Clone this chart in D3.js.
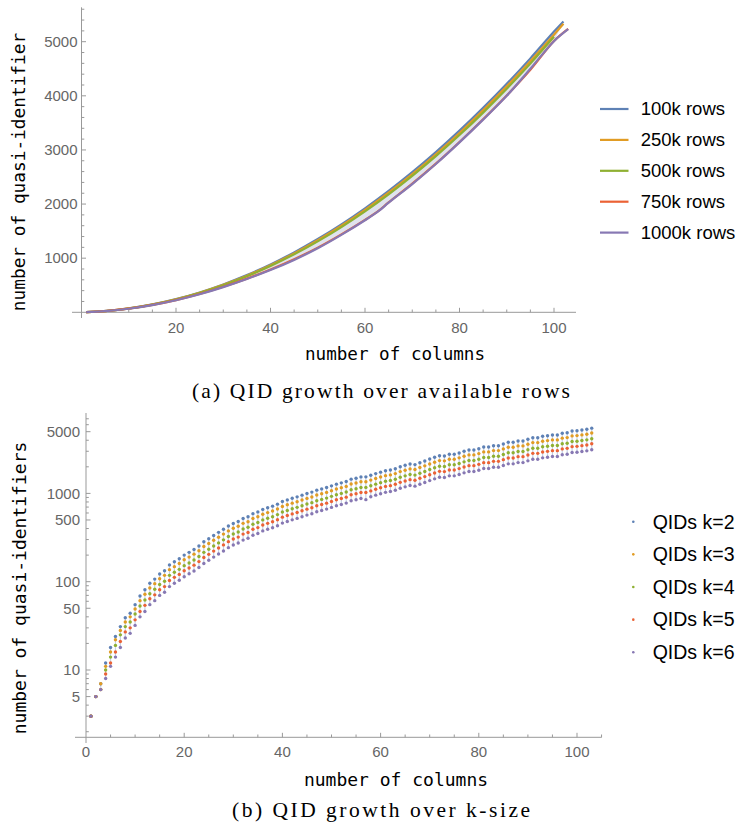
<!DOCTYPE html>
<html><head><meta charset="utf-8">
<script src="https://cdn.jsdelivr.net/npm/d3@7"></script>
<style>body{margin:0;background:#fff}svg{display:block}</style>
</head><body>
<svg id="c" width="741" height="835"></svg>
<script>
// ---------- DATA: (a) QID growth over available rows ----------
const rowLabels = ["100k rows","250k rows","500k rows","750k rows","1000k rows"];
const colsA = [1,5,10,15,20,25,30,35,40,45,50,55,60,65,70,75,80,85,90,95,100,102];
const colsGreen = [1,5,10,15,20,25,30,35,40,45,50,55,60,65,70,75,80,85,90,95,100];
const colsLong = [1,5,10,15,20,25,30,35,40,45,50,55,60,63,65,70,75,80,85,90,95,100,103];
const rows100k = [3,24,72,146,244,367,515,687,884,1107,1354,1625,1922,2243,2589,2960,3356,3777,4222,4692,5187,5375];
const rows250k = [3,23,71,143,240,361,507,676,870,1088,1332,1600,1893,2210,2553,2921,3314,3732,4175,4640,5130,5330];
const rows500k = [3,23,70,141,236,355,498,665,855,1070,1310,1575,1865,2180,2520,2885,3275,3690,4130,4595,5090];
const rows750k = [3,22,67,136,226,338,471,622,790,980,1195,1440,1708,1885,2032,2376,2746,3146,3566,4006,4480,5012,5235];
const rows1000k = [3,22,66,134,222,333,465,615,780,968,1182,1430,1700,1878,2025,2370,2740,3140,3560,4000,4500,5010,5231];

// ---------- DATA: (b) QID growth over k-size ----------
const kLabels = ["QIDs k=2","QIDs k=3","QIDs k=4","QIDs k=5","QIDs k=6"];
const kCols = d3.range(1, 104);
const qidK2 = [3,5,7,12,18,24,31,39,44,55,69,81,96,107,122,133,155,168,182,200,215,232,254,283,307,334,362,392,427,457,481,520,543,590,617,659,688,717,756,809,844,881,914,955,997,1034,1088,1125,1165,1218,1272,1316,1364,1450,1487,1537,1540,1606,1675,1741,1804,1841,1905,2006,2080,2153,2120,2228,2330,2450,2564,2673,2654,2773,2773,2870,2998,3100,3100,3208,3355,3355,3470,3470,3625,3793,3793,3920,3920,4100,4275,4275,4434,4500,4585,4585,4800,4870,5090,5130,5224,5320,5480];
const qidK3 = [3,5,7,11,16,22,28,35,40,49,61,72,85,95,108,118,137,148,161,177,190,205,224,250,271,295,319,346,376,403,424,458,478,520,543,580,606,631,666,712,743,776,805,841,878,910,958,990,1026,1072,1120,1158,1200,1276,1309,1353,1356,1414,1474,1532,1588,1620,1676,1766,1831,1895,1866,1961,2051,2156,2257,2353,2336,2441,2441,2526,2639,2728,2728,2824,2953,2953,3054,3054,3190,3338,3338,3450,3450,3608,3762,3762,3902,3960,4035,4035,4224,4286,4480,4515,4597,4682,4822];
const qidK4 = [3,5,6,10,14,19,25,31,35,43,53,62,73,82,93,101,118,128,138,152,163,176,193,215,233,254,275,298,325,347,366,395,413,448,469,501,523,545,575,615,641,670,695,726,758,786,827,855,885,926,967,1000,1037,1102,1130,1168,1170,1221,1273,1323,1371,1399,1448,1525,1581,1636,1611,1693,1771,1862,1949,2031,2017,2107,2107,2181,2278,2356,2356,2438,2550,2550,2637,2637,2755,2883,2883,2979,2979,3116,3249,3249,3370,3420,3485,3485,3648,3701,3868,3899,3970,4043,4165];
const qidK5 = [3,5,6,9,12,16,21,27,30,37,46,54,64,71,81,88,103,112,121,133,143,154,169,188,204,222,241,261,284,304,320,346,361,392,410,438,458,477,503,538,561,586,608,635,663,688,724,748,775,810,846,875,907,964,989,1022,1024,1068,1114,1158,1200,1224,1267,1334,1383,1432,1410,1482,1549,1629,1705,1778,1765,1844,1844,1909,1994,2062,2062,2133,2231,2231,2308,2308,2411,2522,2522,2607,2607,2727,2843,2843,2949,2993,3049,3049,3192,3239,3385,3411,3474,3538,3645];
const qidK6 = [3,5,6,8,11,14,18,23,26,32,40,46,55,61,70,76,88,96,104,114,123,132,145,161,175,190,206,223,243,260,274,296,310,336,352,376,392,409,431,461,481,502,521,544,568,589,620,641,664,694,725,750,777,827,848,876,850,915,955,992,1028,1049,1086,1143,1186,1227,1208,1270,1328,1397,1461,1524,1513,1581,1581,1636,1709,1767,1767,1829,1912,1912,1978,1978,2066,2162,2162,2234,2234,2337,2437,2437,2527,2565,2613,2613,2736,2776,2901,2924,2978,3032,3124];

const colors = ["#5E81B5","#E19C24","#8FB032","#EB6235","#8778B3"];

// ---------- SETUP ----------
const svg = d3.select("#c");
const axisCol = "#999999", labCol = "#666666";
const sans = "'Liberation Sans', Arial, sans-serif";
const mono = "'DejaVu Sans Mono', monospace";
const serif = "'Liberation Serif', 'Times New Roman', serif";

// ===== Chart (a) =====
const xA = d3.scaleLinear().domain([0, 100]).range([81.5, 554]);
const yA = d3.scaleLinear().domain([0, 5000]).range([312.3, 41.7]);
const gA = svg.append("g");

const seriesA = [
  {x: colsA, y: rows100k},
  {x: colsA, y: rows250k},
  {x: colsGreen, y: rows500k},
  {x: colsLong, y: rows750k},
  {x: colsLong, y: rows1000k}
].map(s => s.x.map((c, i) => [c, s.y[i]]));

const lineA = d3.line().x(d => xA(d[0])).y(d => yA(d[1])).curve(d3.curveCatmullRom.alpha(0.5));
const upperS = seriesA[0], lowerS = seriesA[4].filter(d => d[0] <= 102.5);
const fillPath = lineA(upperS) + "L" + lineA(lowerS.slice().reverse()).slice(1) + "Z";
gA.append("path").attr("d", fillPath).attr("fill", "#dfe3ee").attr("stroke", "none");

gA.append("line").attr("x1", 72).attr("x2", 576).attr("y1", yA(0)).attr("y2", yA(0)).attr("stroke", axisCol);
gA.append("line").attr("x1", xA(0)).attr("x2", xA(0)).attr("y1", 7.3).attr("y2", 318).attr("stroke", axisCol);
for (let v = 5; v <= 104; v += 5) {
  const major = v % 20 === 0;
  gA.append("line").attr("x1", xA(v)).attr("x2", xA(v)).attr("y1", yA(0)).attr("y2", yA(0) - (major ? 4.5 : 2.8)).attr("stroke", axisCol);
}
for (let v = 200; v <= 5600; v += 200) {
  const major = v % 1000 === 0;
  gA.append("line").attr("x1", xA(0)).attr("x2", xA(0) + (major ? 4.5 : 2.8)).attr("y1", yA(v)).attr("y2", yA(v)).attr("stroke", axisCol);
}
[20,40,60,80,100].forEach(v => gA.append("text").attr("x", xA(v)).attr("y", 333).attr("text-anchor", "middle")
  .attr("font-family", sans).attr("font-size", 15).attr("fill", labCol).text(v));
[1000,2000,3000,4000,5000].forEach(v => gA.append("text").attr("x", 77.5).attr("y", yA(v)).attr("dy", "0.35em").attr("text-anchor", "end")
  .attr("font-family", sans).attr("font-size", 15).attr("fill", labCol).text(v));

seriesA.forEach((s, i) => {
  gA.append("path").attr("d", lineA(s)).attr("fill", "none").attr("stroke", colors[i]).attr("stroke-width", 2.2).attr("stroke-linejoin", "round");
});

gA.append("text").attr("x", 395).attr("y", 360).attr("text-anchor", "middle").attr("font-family", mono).attr("font-size", 17.6).attr("fill", "#000").text("number of columns");
gA.append("text").attr("transform", "translate(25,172) rotate(-90)").attr("text-anchor", "middle").attr("font-family", mono).attr("font-size", 17.8).attr("fill", "#000").text("number of quasi-identifier");

rowLabels.forEach((lab, i) => {
  const y = 109 + i * 30.9;
  gA.append("line").attr("x1", 600).attr("x2", 628.5).attr("y1", y).attr("y2", y).attr("stroke", colors[i]).attr("stroke-width", 2.2);
  gA.append("text").attr("x", 640.7).attr("y", y).attr("dy", "0.35em").attr("font-family", sans).attr("font-size", 18.5).attr("fill", "#000").text(lab);
});

// ===== Chart (b) =====
const xB = d3.scaleLinear().domain([0, 100]).range([86, 577]);
const yB = d3.scaleLog().domain([1, 10000]).range([758.3, 758.3 - 4 * 88.3]);
const gB = svg.append("g");
const seriesB = [qidK2, qidK3, qidK4, qidK5, qidK6];

gB.append("line").attr("x1", 75).attr("x2", 601.7).attr("y1", 737.3).attr("y2", 737.3).attr("stroke", axisCol);
gB.append("line").attr("x1", xB(0)).attr("x2", xB(0)).attr("y1", 413).attr("y2", 743).attr("stroke", axisCol);
for (let v = 5; v <= 105; v += 5) {
  const major = v % 20 === 0;
  gB.append("line").attr("x1", xB(v)).attr("x2", xB(v)).attr("y1", 737.3).attr("y2", 737.3 - (major ? 4.5 : 2.8)).attr("stroke", axisCol);
}
const majorY = [5,10,50,100,500,1000,5000];
[1,10,100,1000].forEach(dec => {
  for (let m = 1; m <= 9; m++) {
    const v = m * dec;
    if (yB(v) > 737.3 || yB(v) < 415) continue;
    const major = majorY.includes(v);
    gB.append("line").attr("x1", xB(0)).attr("x2", xB(0) + (major ? 4.5 : 2.8)).attr("y1", yB(v)).attr("y2", yB(v)).attr("stroke", axisCol);
  }
});
[0,20,40,60,80,100].forEach(v => gB.append("text").attr("x", xB(v)).attr("y", 757).attr("text-anchor", "middle")
  .attr("font-family", sans).attr("font-size", 15).attr("fill", labCol).text(v));
majorY.forEach(v => gB.append("text").attr("x", 80).attr("y", yB(v)).attr("dy", "0.35em").attr("text-anchor", "end")
  .attr("font-family", sans).attr("font-size", 15).attr("fill", labCol).text(v));

kCols.forEach((c, i) => {
  gB.append("line").attr("x1", xB(c)).attr("x2", xB(c)).attr("y1", yB(qidK2[i])).attr("y2", yB(qidK6[i]))
    .attr("stroke", "#c6d0e3").attr("stroke-width", 1.2);
});
seriesB.forEach((s, si) => {
  gB.append("g").selectAll("circle").data(s).join("circle")
    .attr("cx", (d, i) => xB(kCols[i])).attr("cy", d => yB(d)).attr("r", 1.7).attr("fill", colors[si]);
});

gB.append("text").attr("x", 396).attr("y", 786).attr("text-anchor", "middle").attr("font-family", mono).attr("font-size", 18).attr("fill", "#000").text("number of columns");
gB.append("text").attr("transform", "translate(26,588) rotate(-90)").attr("text-anchor", "middle").attr("font-family", mono).attr("font-size", 18).attr("fill", "#000").text("number of quasi-identifiers");

kLabels.forEach((lab, i) => {
  const y = 521.7 + i * 32.65;
  gB.append("circle").attr("cx", 633.3).attr("cy", y).attr("r", 1.3).attr("fill", colors[i]);
  gB.append("text").attr("x", 652.7).attr("y", y).attr("dy", "0.35em").attr("font-family", sans).attr("font-size", 19.5).attr("fill", "#000").text(lab);
});

// ===== captions =====
function caption(txt, cx, y, targetW) {
  const fs = 21.5;
  const t = svg.append("text").attr("x", cx).attr("y", y).attr("text-anchor", "middle")
    .attr("font-family", serif).attr("font-size", fs).attr("fill", "#000").text(txt);
  const w = t.node().getComputedTextLength();
  if (w > 0) {
    const ls = Math.max(0, (targetW - w) / (txt.length - 1));
    t.attr("letter-spacing", ls).attr("x", cx + ls / 2);
  }
}
caption("(a) QID growth over available rows", 381, 398, 378);
caption("(b) QID growth over k-size", 381, 817, 298);
</script>
</body></html>
